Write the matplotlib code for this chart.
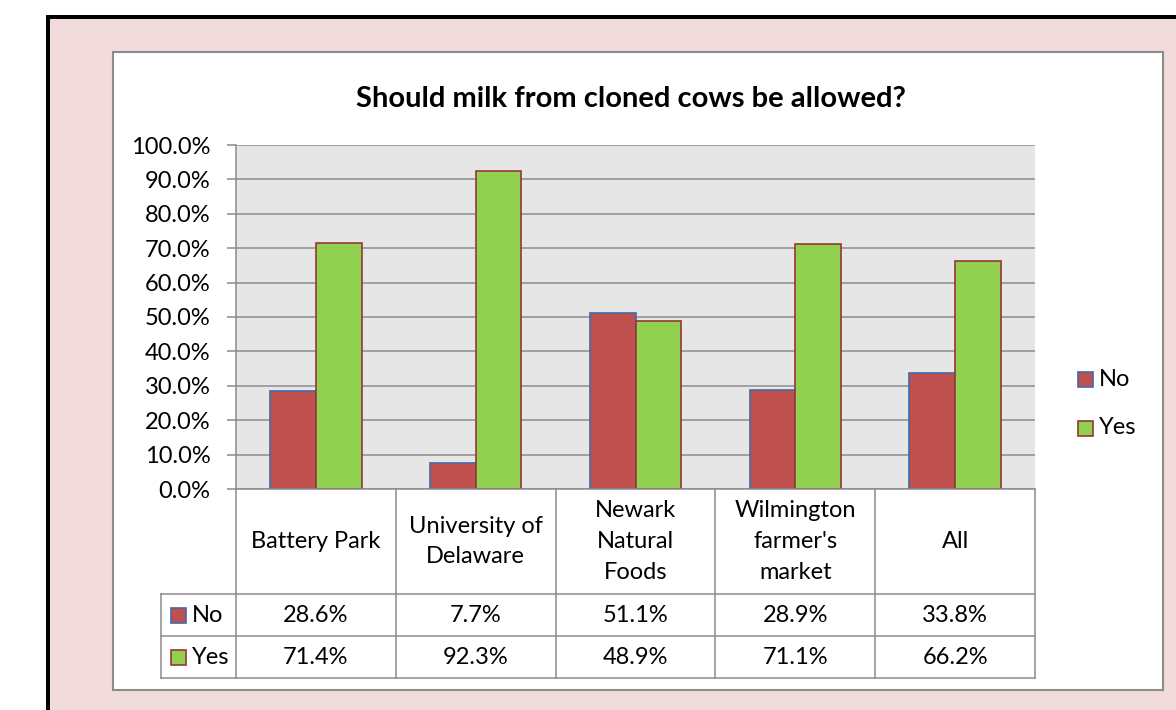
import matplotlib
matplotlib.use("Agg")
import matplotlib.pyplot as plt
from matplotlib.patches import Rectangle
from matplotlib.ticker import FuncFormatter, MultipleLocator

# ---- data ----
categories = ["Battery Park", "University of\nDelaware", "Newark\nNatural\nFoods",
              "Wilmington\nfarmer's\nmarket", "All"]
series_names = ["No", "Yes"]
no_values = [0.286, 0.077, 0.511, 0.289, 0.338]
yes_values = [0.714, 0.923, 0.489, 0.711, 0.662]
title = "Should milk from cloned cows be allowed?"

# ---- style ----
plt.rcParams['font.family'] = ['Lato', 'DejaVu Sans']
FS = 17
RED = "#C0504D"
RED_EDGE = "#3F6AA8"
GREEN = "#92D050"
GREEN_EDGE = "#953735"
GRID = "#8C8C8C"
PINK = "#F2DCDB"
PLOT_BG = "#E6E6E6"

W, H = 1176, 710
fig = plt.figure(figsize=(W / 100, H / 100), dpi=100)
fig.patch.set_facecolor("white")


def fpos(x0, y0, x1, y1):
    return [x0 / W, 1 - y1 / H, (x1 - x0) / W, (y1 - y0) / H]


# overlay axes in pixel coordinates for decoration
bg = fig.add_axes([0, 0, 1, 1], zorder=0)
bg.set_xlim(0, W)
bg.set_ylim(H, 0)
bg.axis("off")
bg.add_patch(Rectangle((46, 15), W, H, facecolor="black", edgecolor="none"))
bg.add_patch(Rectangle((50, 19), W, H, facecolor=PINK, edgecolor="none"))
bg.add_patch(Rectangle((113, 52), 1050, 638, facecolor="white", edgecolor=GRID, linewidth=1.5))
bg.text(631, 107, title, ha="center", va="baseline", fontsize=21, fontweight="bold")

# main plot
PL, PR, PT, PB = 236, 1035, 145, 489
ax = fig.add_axes(fpos(PL, PT, PR, PB), zorder=2)
ax.set_facecolor(PLOT_BG)
x = list(range(len(categories)))
bw = 0.2857
ax.bar([i - bw / 2 for i in x], no_values, width=bw, color=RED, edgecolor=RED_EDGE,
       linewidth=1.2, zorder=3, label="No")
ax.bar([i + bw / 2 for i in x], yes_values, width=bw, color=GREEN, edgecolor=GREEN_EDGE,
       linewidth=1.2, zorder=3, label="Yes")
ax.set_xlim(-0.5, len(categories) - 0.5)
ax.set_ylim(0, 1.0)
ax.yaxis.set_major_locator(MultipleLocator(0.1))
ax.yaxis.set_major_formatter(FuncFormatter(lambda v, p: f"{v:.1%}"))
ax.grid(axis="y", color=GRID, linewidth=1.1, zorder=1)
ax.set_axisbelow(True)
ax.set_xticks([])
ax.tick_params(axis="y", length=6.5, width=1.1, color=GRID, labelsize=FS, pad=12)
for s in ["top", "right"]:
    ax.spines[s].set_visible(False)
for s in ["left", "bottom"]:
    ax.spines[s].set_color(GRID)
    ax.spines[s].set_linewidth(1.1)
    ax.spines[s].set_zorder(4)

# data table
TL, TB = 161, 678
units_per_px = len(categories) / (PR - PL)
xl = -0.5 - (PL - TL) * units_per_px
tax = fig.add_axes(fpos(TL, PB, PR, TB), zorder=2)
tax.set_xlim(xl, len(categories) - 0.5)
tax.set_ylim(TB - PB, 0)
tax.axis("off")
hdr, r1, r2 = 105, 147, 189
lkw = dict(color=GRID, linewidth=1.1, clip_on=False)
for i in range(len(categories) + 1):
    tax.plot([i - 0.5, i - 0.5], [0, r2], **lkw)
tax.plot([xl, xl], [hdr, r2], **lkw)
for yy in (hdr, r1, r2):
    tax.plot([xl, len(categories) - 0.5], [yy, yy], **lkw)
for i, c in enumerate(categories):
    tax.text(i, hdr / 2, c, ha="center", va="center", fontsize=FS, linespacing=1.58)
    tax.text(i, (hdr + r1) / 2, f"{no_values[i]:.1%}", ha="center", va="center", fontsize=FS)
    tax.text(i, (r1 + r2) / 2, f"{yes_values[i]:.1%}", ha="center", va="center", fontsize=FS)

# legend keys in table
row_centers = [(PB + hdr + PB + r1) / 2, (PB + r1 + PB + r2) / 2]
for (name, fc, ec), yc in zip([("No", RED, RED_EDGE), ("Yes", GREEN, GREEN_EDGE)], row_centers):
    bg.add_patch(Rectangle((171, yc - 7.5), 15, 15, facecolor=fc, edgecolor=ec, linewidth=1.2))
    bg.text(192, yc, name, ha="left", va="center", fontsize=FS)

# chart legend
for (name, fc, ec), yc in zip([("No", RED, RED_EDGE), ("Yes", GREEN, GREEN_EDGE)], [379, 428]):
    bg.add_patch(Rectangle((1078, yc - 7.5), 15, 15, facecolor=fc, edgecolor=ec, linewidth=1.2))
    bg.text(1099, yc, name, ha="left", va="center", fontsize=FS)

fig.savefig("out.png", dpi=100)
